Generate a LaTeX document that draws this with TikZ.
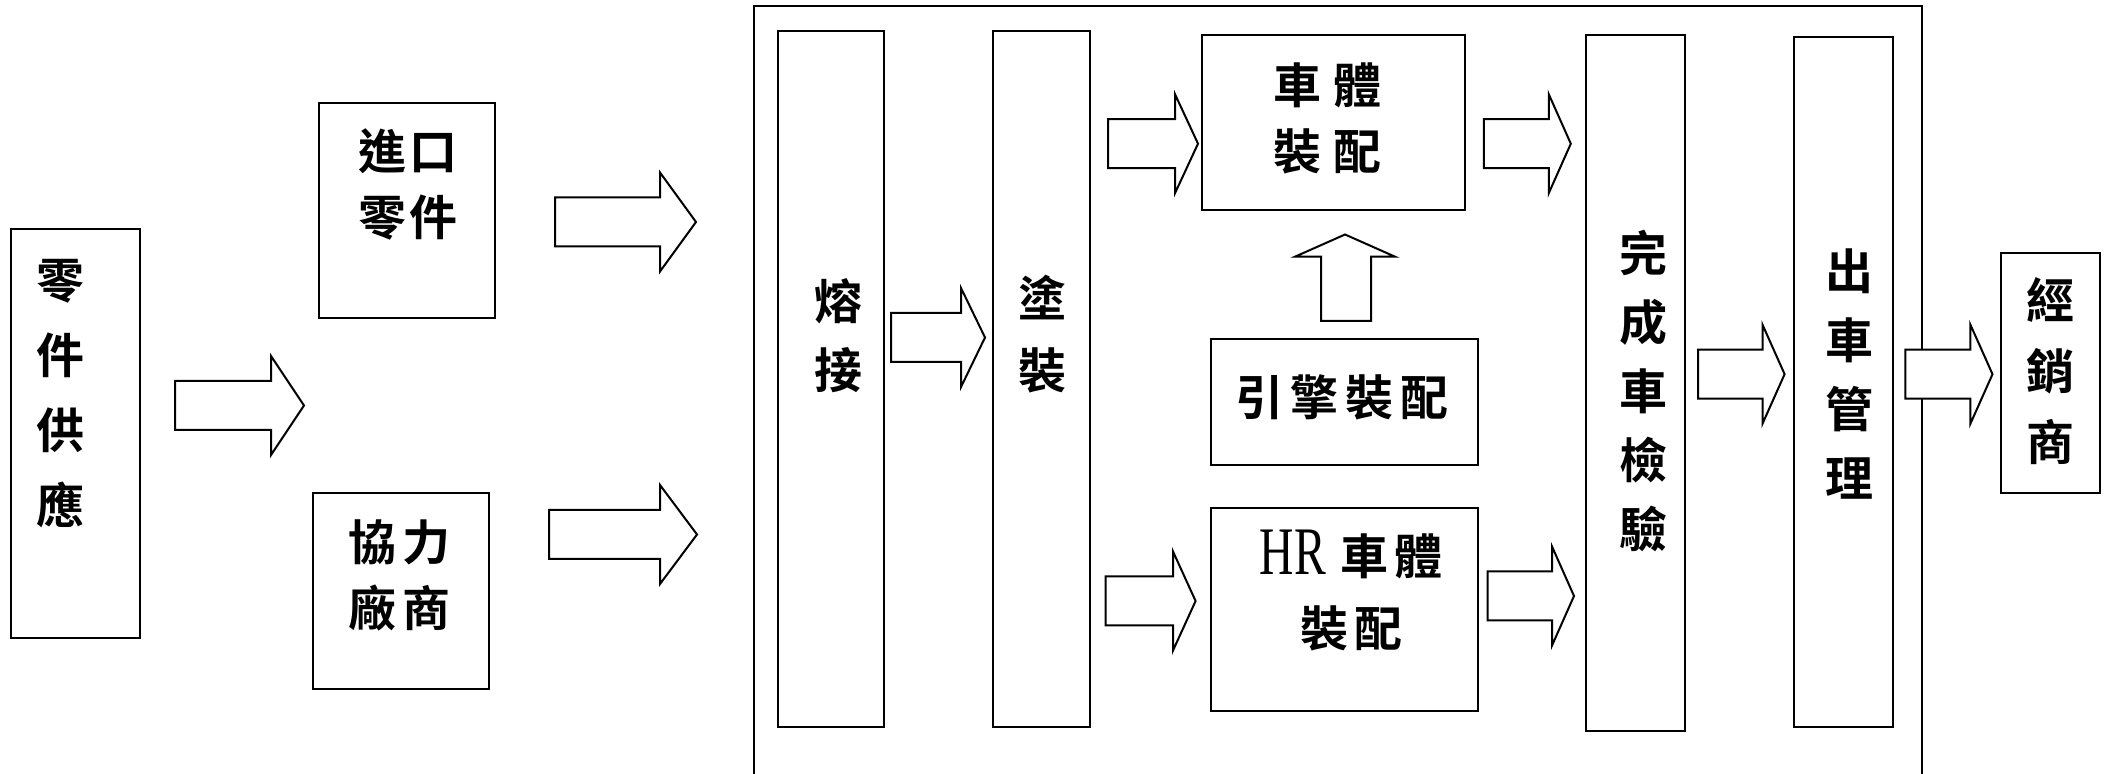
\documentclass[tikz,border=0pt]{standalone}
\usepackage{fontspec}
\usepackage{graphicx}
\usetikzlibrary{fit}
\newfontfamily\cjk{Noto Sans CJK TC}[BoldFont={Noto Sans CJK TC Bold}]
\newfontfamily\hrfont{Liberation Serif}
\newcommand\hrtext{\hbox{\hrfont\mdseries\fontsize{34pt}{36pt}\selectfont\scalebox{0.7}[1]{HR}}}
\newcommand\rblock[4]{% x0, head x, tip x, y mid
  \draw[barrow] (#1,#4-24.5) -- (#2,#4-24.5) -- (#2,#4-49.5) -- (#3,#4)
    -- (#2,#4+49.5) -- (#2,#4+24.5) -- (#1,#4+24.5) -- cycle;}
\begin{document}
\begin{tikzpicture}[x=0.5pt,y=-0.5pt,
  box/.style={draw, line width=1pt, inner sep=0pt},
  barrow/.style={draw, line width=1pt, line join=miter, fill=white},
  txt/.style={font=\cjk\bfseries\fontsize{24pt}{#1}\selectfont, align=center, inner sep=0pt},
  txt/.default=36pt]
\useasboundingbox (0,0) rectangle (2104,774);
\fill[white] (0,0) rectangle (2104,774);
\clip (0,0) rectangle (2104,774);
% outer plant frame
\node[box, fit={(753.6,6) (1922,800)}] (plant) {};
% boxes
\node[box, fit={(10.7,229) (139.6,638)}] (supply) {};
\node[box, fit={(319,102.7) (495,318.4)}] (import) {};
\node[box, fit={(313,492.6) (489,688.5)}] (partner) {};
\node[box, fit={(778,30.6) (883.5,726.6)}] (weld) {};
\node[box, fit={(993,30.6) (1089.5,726.6)}] (paint) {};
\node[box, fit={(1201.5,35.5) (1465,210.3)}] (body) {};
\node[box, fit={(1211,338.6) (1478,465.5)}] (engine) {};
\node[box, fit={(1211,508.4) (1478,710.8)}] (hrbody) {};
\node[box, fit={(1585.8,34.6) (1684.6,730.5)}] (inspect) {};
\node[box, fit={(1793.75,37.5) (1892.5,727)}] (ship) {};
\node[box, fit={(2001,253) (2100,492.6)}] (dealer) {};
% texts
\node[txt=37.5pt] (supply-t) at (60.6,394) {零\\件\\供\\應};
\node[txt=33pt] (import-t) at (408,184) {進\hspace{1.5pt}口\\零\hspace{1.5pt}件};
\node[txt=33pt] (partner-t) at (399,575) {協\hspace{3pt}力\\廠\hspace{3pt}商};
\node[txt=34.5pt] (weld-t) at (838,335.5) {熔\\接};
\node[txt=36pt] (paint-t) at (1042,334) {塗\\裝};
\node[txt=33pt] (body-t) at (1327,118) {車\hspace{6pt}體\\裝\hspace{6pt}配};
\node[txt] (engine-t) at (1342,397) {引\hspace{3.5pt}擎\hspace{3.5pt}裝\hspace{3.5pt}配};
\node[txt=36pt] (hrbody-t) at (1351,591) {\hrtext\hspace{7pt}車\hspace{3pt}體\\裝\hspace{3pt}配};
\node[txt=34.5pt] (inspect-t) at (1643,391) {完\\成\\車\\檢\\驗};
\node[txt=34.5pt] (ship-t) at (1849,374.5) {出\\車\\管\\理};
\node[txt=35.5pt] (dealer-t) at (2050,371) {經\\銷\\商};
% block arrows
\rblock{175}{271}{304}{405.5}
\rblock{555}{660}{696}{222}
\rblock{549}{660}{697}{534.5}
\rblock{891}{961}{985}{337.5}
\rblock{1108}{1175}{1198}{143.7}
\rblock{1105.5}{1173}{1195.6}{601}
\rblock{1483.75}{1548.75}{1570.8}{143.7}
\rblock{1487.5}{1552}{1574}{596}
\rblock{1698}{1762.5}{1784.6}{374.2}
\rblock{1905.4}{1970.4}{1992.5}{374.2}
% upward block arrow from engine to body
\draw[barrow] (1321,320.8) -- (1321,256.7) -- (1295,256.7) -- (1345,234.5)
  -- (1395,256.7) -- (1371,256.7) -- (1371,320.8) -- cycle;
\end{tikzpicture}
\end{document}
